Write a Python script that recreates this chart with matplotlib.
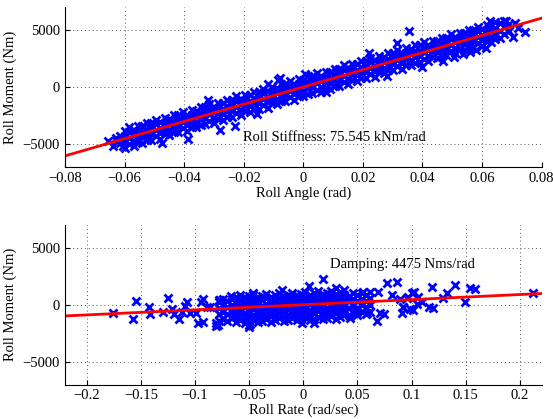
import numpy as np
import matplotlib
matplotlib.use("Agg")
import matplotlib.pyplot as plt

plt.rcParams['font.family'] = ['Liberation Serif', 'DejaVu Serif']
plt.rcParams['font.size'] = 10.5

# fitted coefficients
roll_stiffness = 75545.0   # Nm/rad
roll_damping = 4475.0      # Nms/rad

# ---- roll angle (rad) vs roll moment (Nm), grouped by angle column ----
angle_cols = [
    -0.0655, -0.0640, -0.0628, -0.0615, -0.0605,
    -0.0600, -0.0585, -0.0570, -0.0555, -0.0540, -0.0525, -0.0510, -0.0495,
    -0.0480, -0.0465, -0.0450, -0.0435, -0.0420, -0.0405, -0.0390, -0.0375,
    -0.0360, -0.0345, -0.0330, -0.0315, -0.0300, -0.0285, -0.0270, -0.0255,
    -0.0240, -0.0225, -0.0210, -0.0195, -0.0180, -0.0165, -0.0150, -0.0135,
    -0.0120, -0.0105, -0.0090, -0.0075, -0.0060, -0.0045, -0.0030, -0.0015,
    0.0000, 0.0015, 0.0030, 0.0045, 0.0060, 0.0075, 0.0090, 0.0105,
    0.0120, 0.0135, 0.0150, 0.0165, 0.0180, 0.0195, 0.0210, 0.0225,
    0.0240, 0.0255, 0.0270, 0.0285, 0.0300, 0.0315, 0.0330, 0.0345,
    0.0360, 0.0375, 0.0390, 0.0405, 0.0420, 0.0435, 0.0450, 0.0465,
    0.0480, 0.0495, 0.0510, 0.0525, 0.0540, 0.0555, 0.0570, 0.0585,
    0.0600, 0.0615, 0.0630, 0.0645, 0.0660, 0.0675, 0.0690,
]
angle_moments = [
    [-4700], [-5150], [-4650, -4450], [-4900, -4300], [-5200, -4800],
    [-5310, -4790, -4290, -3830], [-4980, -4440, -3960, -3540],
    [-5210, -4730, -4250, -3790], [-4840, -4340, -3840, -3410],
    [-4900, -4410, -3930, -3460], [-4670, -4170, -3670, -3150],
    [-4630, -4110, -3610, -3150], [-4300, -3760, -3280, -2860],
    [-4530, -4050, -3570, -3110], [-4160, -3660, -3160, -2730],
    [-4220, -3730, -3250, -2780], [-3990, -3490, -2990, -2470],
    [-3950, -3430, -2930, -2470], [-3620, -3080, -2600, -2180],
    [-3850, -3370, -2890, -2430], [-3480, -2980, -2480, -2050],
    [-3540, -3050, -2570, -2100], [-3310, -2810, -2310, -1790],
    [-3270, -2750, -2250, -1790], [-2940, -2400, -1920, -1500],
    [-3170, -2690, -2210, -1750], [-2800, -2300, -1800, -1370],
    [-2860, -2370, -1890, -1420], [-2630, -2130, -1630, -1110],
    [-2590, -2070, -1570, -1110], [-2260, -1720, -1240, -820],
    [-2490, -2010, -1530, -1070], [-2120, -1620, -1120, -690],
    [-2180, -1690, -1210, -740], [-1950, -1450, -950, -430],
    [-1910, -1390, -890, -430], [-1580, -1040, -560, -140],
    [-1810, -1330, -850, -390], [-1440, -940, -440, -10],
    [-1500, -1010, -530, -60], [-1270, -770, -270, 250],
    [-1230, -710, -210, 250], [-900, -360, 120, 540],
    [-1130, -650, -170, 290], [-760, -260, 240, 670],
    [-820, -330, 150, 620], [-590, -90, 410, 930],
    [-550, -30, 470, 930], [-220, 320, 800, 1220],
    [-450, 30, 510, 970], [-80, 420, 920, 1350],
    [-140, 350, 830, 1300], [90, 590, 1090, 1610],
    [130, 650, 1150, 1610], [460, 1000, 1480, 1900],
    [230, 710, 1190, 1650], [600, 1100, 1600, 2030],
    [540, 1030, 1510, 1980], [770, 1270, 1770, 2290],
    [810, 1330, 1830, 2290], [1140, 1680, 2160, 2580],
    [910, 1390, 1870, 2330], [1280, 1780, 2280, 2710],
    [1220, 1710, 2190, 2660], [1450, 1950, 2450, 2970],
    [1490, 2010, 2510, 2970], [1820, 2360, 2840, 3260],
    [1590, 2070, 2550, 3010], [1960, 2460, 2960, 3390],
    [1900, 2390, 2870, 3340], [2130, 2630, 3130, 3650],
    [2170, 2690, 3190, 3650], [2500, 3040, 3520, 3940],
    [2270, 2750, 3230, 3690], [2640, 3140, 3640, 4070],
    [2580, 3070, 3550, 4020], [2810, 3310, 3810, 4330],
    [2850, 3370, 3870, 4330], [3180, 3720, 4200, 4620],
    [2950, 3430, 3910, 4370], [3320, 3820, 4320, 4750],
    [3260, 3750, 4230, 4700], [3490, 3990, 4490, 5010],
    [3530, 4050, 4550, 5010], [3860, 4400, 4880, 5300],
    [3630, 4110, 4590, 5050], [4000, 4500, 5000, 5430],
    [3940, 4430, 4910, 5380], [4170, 4670, 5170, 5690],
    [4300, 4900, 5600], [4650, 5300, 5800], [4900, 5500],
]
# isolated points around the band
angle_extra = [0.0703, 0.0743, 0.0680, 0.0626, 0.0712, 0.0720,
               0.0470, 0.0505, 0.0535, 0.0560, 0.0580, 0.0595, 0.0612,
               0.0354, 0.0314, -0.0079, 0.0075, -0.0156, -0.0387, -0.0475,
               -0.0280, -0.0230, -0.0320, -0.0085, 0.0220, 0.0005, 0.0400,
               0.0280, -0.0120]
moment_extra = [4410, 4850, 5790, 5790, 5650, 5200,
                2250, 2650, 2900, 3050, 3250, 3600, 3400,
                4880, 3890, 790, -440, -2370, -4560, -4950,
                -3770, -3420, -1140, 610, 3000, 1150, 1750,
                950, 250]

# ---- roll rate (rad/sec) vs roll moment (Nm), grouped by rate column ----
rate_cols = [
    -0.078, -0.074, -0.070, -0.066, -0.062, -0.058, -0.054, -0.050,
    -0.046, -0.042, -0.038, -0.034, -0.030, -0.026, -0.022, -0.018,
    -0.014, -0.010, -0.006, -0.002, 0.002, 0.006, 0.010, 0.014,
    0.018, 0.022, 0.026, 0.030, 0.034, 0.038, 0.042, 0.046,
    0.050, 0.054, 0.058, 0.062,
]
rate_moments = [
    [-1450, -850, -250, 250], [-1230, -630, -30, 470],
    [-1410, -810, -210, 290], [-1200, -600, 0, 500],
    [-1530, -1080, -630, -180, 270, 670], [-1360, -910, -460, -10, 440, 840],
    [-1590, -1140, -690, -240, 160, 610], [-1470, -1020, -570, -120, 330, 730],
    [-1310, -860, -410, 40, 490, 890], [-1540, -1090, -640, -190, 210, 660],
    [-1420, -970, -520, -70, 380, 780], [-1250, -800, -350, 100, 550, 950],
    [-1480, -1030, -580, -130, 270, 720], [-1370, -920, -470, -20, 430, 830],
    [-1200, -750, -300, 150, 600, 1000], [-1430, -980, -530, -80, 320, 770],
    [-1310, -860, -410, 40, 490, 890], [-1150, -700, -250, 210, 660, 1060],
    [-1380, -930, -480, -30, 370, 820], [-1260, -810, -360, 90, 540, 940],
    [-1090, -640, -190, 260, 710, 1110], [-1320, -870, -420, 30, 430, 880],
    [-1210, -760, -310, 150, 600, 1000], [-1040, -590, -140, 310, 760, 1160],
    [-1270, -820, -370, 80, 480, 930], [-1150, -700, -250, 200, 650, 1050],
    [-980, -530, -80, 370, 820, 1220], [-1220, -770, -320, 130, 530, 980],
    [-1100, -650, -200, 250, 700, 1100], [-930, -480, -30, 420, 870, 1270],
    [-910, -310, 290, 790], [-690, -90, 510, 1010],
    [-880, -280, 320, 820], [-660, -60, 540, 1040],
    [-840, -240, 360, 860], [-620, -20, 580, 1080],
]
rate_extra = [-0.1754, -0.1570, -0.1545, -0.1428, -0.1416, -0.1298, -0.1249,
              -0.1212, -0.1190, -0.1145, -0.1117, -0.1092, -0.1074, -0.1047,
              -0.0991, -0.0976, -0.0945, -0.0924, -0.0924, -0.0893, -0.0862,
              -0.0806, -0.0770, -0.0670, -0.0539, -0.0500, -0.0462, -0.0790,
              -0.0775, -0.0505, -0.0490, -0.0810, -0.0200, 0.0300, 0.0100,
              0.0180, 0.0056, -0.0015, 0.0430, 0.0553, 0.0492, 0.0584,
              0.0690, 0.0682, 0.0707, 0.0768, 0.0861, 0.0745, 0.0815,
              0.0922, 0.0953, 0.1000, 0.1015, 0.0893, 0.0917, 0.0908,
              0.0985, 0.0970, 0.1025, 0.1062, 0.1046, 0.1098, 0.1162,
              0.1200, 0.1185, 0.1286, 0.1323, 0.1400, 0.1492, 0.1538,
              0.1584, 0.2123]
rate_moment_extra = [-755, -1280, 350, -230, -840, -610, 610,
                     -400, -840, -1250, -610, -90, 260, -750,
                     -750, -1580, 260, -1490, 470, -170, -230,
                     -1630, 410, 760, 700, -1780, 1000, -1750,
                     450, -1950, -1650, -1900, 1250, 1450, -1600,
                     2250, 1670, -1580, -1140, 1140, -670, -750,
                     1090, -1400, -750, 1880, 1960, -820, 850,
                     -170, 560, 1000, -460, 470, -170, -700,
                     -400, 700, 1140, 700, 60, 260, -170,
                     -260, 1520, 610, 1050, 1730, 260, 1440,
                     1350, 1000]


def flatten(cols, groups, extra_x, extra_y):
    xs = [c for c, g in zip(cols, groups) for _ in g] + list(extra_x)
    ys = [v for g in groups for v in g] + list(extra_y)
    return np.array(xs), np.array(ys)


def style_axes(ax, xlim, xticks):
    ax.set_xlim(xlim)
    ax.set_ylim(-7000, 7000)
    ax.set_xticks(xticks)
    ax.set_yticks([-5000, 0, 5000])
    ax.spines['top'].set_visible(False)
    ax.spines['right'].set_visible(False)
    ax.tick_params(direction='in', length=3.5, width=0.8, top=False, right=False)
    ax.grid(True, linestyle=(0, (1, 3)), color='0.35', linewidth=0.7)
    ax.set_axisbelow(True)
    ax.set_ylabel('Roll Moment (Nm)')


fig = plt.figure(figsize=(5.53, 4.19), dpi=100)
ax1 = fig.add_axes([0.1175, 0.6019, 0.862, 0.3809])
ax2 = fig.add_axes([0.1175, 0.0823, 0.862, 0.3809])

x1, y1 = flatten(angle_cols, angle_moments, angle_extra, moment_extra)
ax1.plot(x1, y1, 'x', color='blue', ms=5.5, mew=2.0)
xl = np.array([-0.08, 0.08])
ax1.plot(xl, roll_stiffness * xl, color='red', lw=2.0)
style_axes(ax1, (-0.08, 0.08), [-0.08, -0.06, -0.04, -0.02, 0, 0.02, 0.04, 0.06, 0.08])
ax1.set_xticklabels(['\u22120.08', '\u22120.06', '\u22120.04', '\u22120.02', '0',
                     '0.02', '0.04', '0.06', '0.08'])
ax1.set_xlabel('Roll Angle (rad)', labelpad=1)
ax1.text(-0.0203, -4400, 'Roll Stiffness: %.3f kNm/rad' % (roll_stiffness / 1000),
         va='center', ha='left')

x2, y2 = flatten(rate_cols, rate_moments, rate_extra, rate_moment_extra)
ax2.plot(x2, y2, 'x', color='blue', ms=5.5, mew=2.0)
xl2 = np.array([-0.22, 0.22])
ax2.plot(xl2, roll_damping * xl2, color='red', lw=2.0)
style_axes(ax2, (-0.22, 0.22), [-0.2, -0.15, -0.1, -0.05, 0, 0.05, 0.1, 0.15, 0.2])
ax2.set_xticklabels(['\u22120.2', '\u22120.15', '\u22120.1', '\u22120.05', '0',
                     '0.05', '0.1', '0.15', '0.2'])
ax2.set_xlabel('Roll Rate (rad/sec)', labelpad=1)
ax2.text(0.0246, 3500, 'Damping: %d Nms/rad' % roll_damping, va='center', ha='left')

fig.savefig('out.png', dpi=100)
